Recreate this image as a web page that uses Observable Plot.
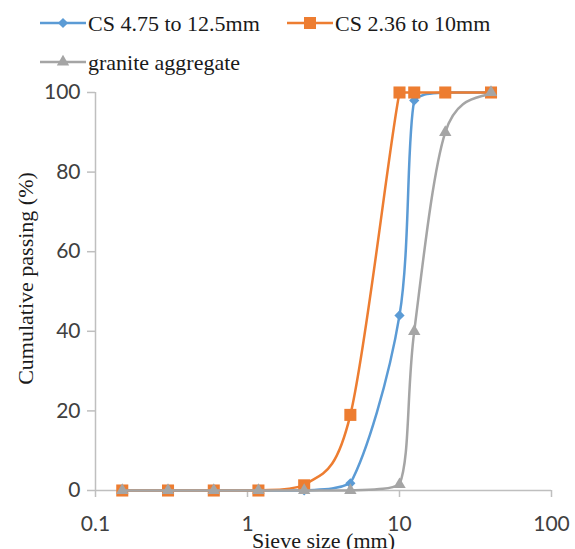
<!DOCTYPE html>
<html>
<head>
<meta charset="utf-8">
<script src="https://cdn.jsdelivr.net/npm/d3@7"></script>
<script src="https://cdn.jsdelivr.net/npm/@observablehq/plot@0.6"></script>
<style>
  html, body { margin: 0; padding: 0; background: #fff; }
  #wrap { width: 575px; height: 549px; overflow: hidden; position: relative; }
  #legend { display: block; }
  #chart svg { display: block; overflow: visible; }
</style>
</head>
<body>
<div id="wrap">
  <svg id="legend" width="575" height="80"></svg>
  <div id="chart"></div>
</div>
<script>
// ---- data ----
const sieveSizes = [0.15, 0.3, 0.6, 1.18, 2.36, 4.75, 10, 12.5, 20, 40];
const cs475to125 = [0, 0, 0, 0, 0, 1.8, 44, 98, 100, 100];
const cs236to10  = [0, 0, 0, 0, 1.3, 19, 100, 100, 100, 100];
const granite    = [0, 0, 0, 0, 0, 0, 1.5, 40, 90, 100];
const seriesNames = ["CS 4.75 to 12.5mm", "CS 2.36 to 10mm", "granite aggregate"];
const xTicks = [0.1, 1, 10, 100];
const yTicks = [0, 20, 40, 60, 80, 100];
const xLabel = "Sieve size (mm)";
const yLabel = "Cumulative passing (%)";

// ---- styles ----
const colors = ["#5B9BD5", "#ED7D31", "#A5A5A5"];
const symbols = ["diamond2", "square", "triangle"];
const radii = [4.6, 6.8, 4.6];
const axisColor = "#BFBFBF";
const serif = "'Liberation Serif', 'Times New Roman', serif";
const sans = "Lato, 'Open Sans', sans-serif";

// Excel-like smoothed line: Catmull-Rom Bezier with control points clamped to each segment
function SmoothCurve(context) { this._context = context; }
SmoothCurve.prototype = {
  areaStart() { this._line = 0; },
  areaEnd() { this._line = NaN; },
  lineStart() { this._pts = []; },
  point(x, y) { this._pts.push([+x, +y]); },
  lineEnd() {
    const p = this._pts, n = p.length, c = this._context;
    if (!n) return;
    c.moveTo(p[0][0], p[0][1]);
    const clamp = (v, a, b) => Math.max(Math.min(a, b), Math.min(Math.max(a, b), v));
    for (let i = 0; i < n - 1; i++) {
      const p0 = p[Math.max(i - 1, 0)], p1 = p[i], p2 = p[i + 1], p3 = p[Math.min(i + 2, n - 1)];
      let c1x = p1[0] + (p2[0] - p0[0]) / 6, c1y = p1[1] + (p2[1] - p0[1]) / 6;
      let c2x = p2[0] - (p3[0] - p1[0]) / 6, c2y = p2[1] - (p3[1] - p1[1]) / 6;
      c1x = clamp(c1x, p1[0], p2[0]); c2x = clamp(c2x, p1[0], p2[0]);
      c1y = clamp(c1y, p1[1], p2[1]); c2y = clamp(c2y, p1[1], p2[1]);
      c.bezierCurveTo(c1x, c1y, c2x, c2y, p2[0], p2[1]);
    }
  }
};
const smoothCurve = context => new SmoothCurve(context);

const seriesValues = [cs475to125, cs236to10, granite];
const tables = seriesValues.map((vals, i) =>
  sieveSizes.map((s, j) => ({size: s, pass: vals[j], series: seriesNames[i]}))
);

const marks = [
  Plot.ruleY([0], {stroke: axisColor, strokeWidth: 1.5}),
  Plot.ruleX([0.1], {stroke: axisColor, strokeWidth: 1.5}),
  Plot.axisY(yTicks, {tickSize: 8, tickPadding: 7, stroke: axisColor, strokeWidth: 1.5,
    fill: "#404040", fontSize: 21, fontFamily: sans, label: null}),
  Plot.axisX(xTicks, {tickSize: 7, tickPadding: 19, stroke: axisColor, strokeWidth: 1.5,
    fill: "#404040", fontSize: 21, fontFamily: sans, label: null,
    tickFormat: d => String(d)}),
];
tables.forEach((t, i) => {
  marks.push(Plot.line(t, {x: "size", y: "pass", stroke: colors[i], strokeWidth: 2.5,
    curve: smoothCurve}));
  marks.push(Plot.dot(t, {x: "size", y: "pass", symbol: () => symbols[i], fill: colors[i],
    stroke: "none", r: radii[i]}));
});
marks.push(Plot.text([yLabel], {frameAnchor: "left", textAnchor: "middle", lineAnchor: "middle",
  rotate: -90, dx: -70, dy: -13,
  fontFamily: serif, fontSize: 22, fill: "#1a1a1a"}));
marks.push(Plot.text([xLabel], {frameAnchor: "bottom", textAnchor: "middle", lineAnchor: "middle",
  dy: 50, fontFamily: serif, fontSize: 22, fill: "#1a1a1a"}));

const chart = Plot.plot({
  width: 575,
  height: 469,
  marginTop: 12,
  marginBottom: 59,
  marginLeft: 95,
  marginRight: 24,
  style: {background: "transparent", overflow: "visible"},
  x: {type: "log", domain: [0.1, 100], axis: null},
  y: {domain: [0, 100], axis: null},
  symbol: {type: "identity"},
  marks
});
document.getElementById("chart").appendChild(chart);

// ---- legend ----
const legendPos = [[40, 23], [287, 23], [40, 62]];
const lg = d3.select("#legend");
seriesNames.forEach((name, i) => {
  const [x0, y0] = legendPos[i];
  const g = lg.append("g").attr("transform", `translate(${x0},${y0})`);
  g.append("line").attr("x1", 0).attr("x2", 46).attr("y1", 0).attr("y2", 0)
    .attr("stroke", colors[i]).attr("stroke-width", 2.5);
  const symMap = {diamond2: d3.symbolDiamond2, square: d3.symbolSquare, triangle: d3.symbolTriangle};
  g.append("path").attr("transform", "translate(23,0)")
    .attr("d", d3.symbol(symMap[symbols[i]], radii[i] * radii[i] * Math.PI)())
    .attr("fill", colors[i]);
  g.append("text").attr("x", 48).attr("y", 0).attr("dy", "0.35em")
    .attr("font-family", serif).attr("font-size", 22).attr("fill", "#1a1a1a")
    .text(name);
});
</script>
</body>
</html>
